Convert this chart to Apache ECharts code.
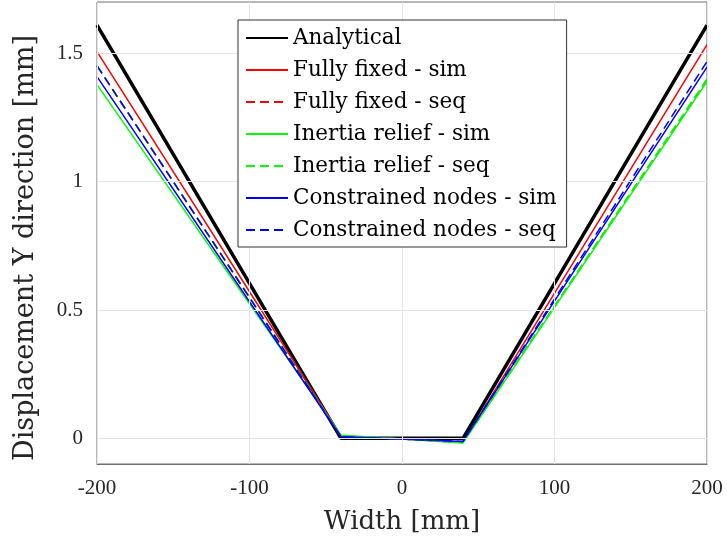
<!DOCTYPE html>
<html>
<head>
<meta charset="utf-8">
<script src="https://cdn.jsdelivr.net/npm/echarts@6/dist/echarts.min.js"></script>
<style>html,body{margin:0;padding:0;background:#fff;}#c{width:727px;height:548px;}</style>
</head>
<body>
<div id="c"></div>
<script>
const xValues = [-200, -40, 0, 40, 200];
const analytical = [1.61, 0.0, 0.0, 0.0, 1.61];
const fixedSim = [1.507, 0.010, -0.003, -0.016, 1.534];
const fixedSeq = [1.450, 0.008, -0.003, -0.014, 1.397];
const inertiaSim = [1.378, 0.012, -0.003, -0.018, 1.390];
const inertiaSeq = [1.452, 0.010, -0.003, -0.015, 1.400];
const constrSim = [1.409, 0.006, -0.003, -0.012, 1.446];
const constrSeq = [1.452, 0.006, -0.003, -0.012, 1.468];
const seriesNames = ['Analytical', 'Fully fixed - sim', 'Fully fixed - seq', 'Inertia relief - sim', 'Inertia relief - seq', 'Constrained nodes - sim', 'Constrained nodes - seq'];
const xTicks = [-200, -100, 0, 100, 200];
const yTicks = [0, 0.5, 1, 1.5];

const font = 'DejaVu Serif';
const tickFont = 'Liberation Serif';
const pair = arr => xValues.map((x, i) => [x, arr[i]]);
const specs = [
  [analytical, '#000000', 'solid', 3.5],
  [fixedSim, '#ff0000', 'solid', 1.5],
  [fixedSeq, '#ff0000', [9, 5], 1.5],
  [inertiaSim, '#00ff00', 'solid', 1.5],
  [inertiaSeq, '#00ff00', [9, 5], 1.5],
  [constrSim, '#0000ff', 'solid', 1.5],
  [constrSeq, '#0000ff', [9, 5], 1.5]
];
const series = specs.map((s, i) => ({
  name: seriesNames[i], type: 'line', data: pair(s[0]), symbol: 'none', showSymbol: false,
  lineStyle: {color: s[1], type: s[2], width: s[3]}, itemStyle: {color: s[1]}, animation: false,
  z: 2, zlevel: 0
}));
series[0].markLine = {
  silent: true, symbol: 'none', animation: false, label: {show: false},
  lineStyle: {color: '#e5e5e5', type: 'solid', width: 1},
  data: yTicks.map(v => ({yAxis: v})).concat(xTicks.map(v => ({xAxis: v})))
};

const chart = echarts.init(document.getElementById('c'));
chart.setOption({
  animation: false,
  backgroundColor: '#fff',
  grid: {left: 97, right: 20, top: 2, bottom: 84, outerBoundsMode: 'none', containLabel: false,
         show: true, borderColor: '#6e6e6e', borderWidth: 1, backgroundColor: 'transparent'},
  legend: {
    orient: 'vertical', left: 238, top: 20, data: seriesNames, z: 20,
    backgroundColor: '#fff', borderColor: '#333', borderWidth: 1,
    padding: [7, 10, 6, 7], itemGap: 10, itemWidth: 42, itemHeight: 14,
    itemStyle: {opacity: 0},
    textStyle: {fontFamily: font, fontSize: 21.5, color: '#000', lineHeight: 20}
  },
  xAxis: {
    type: 'value', min: -200, max: 200, interval: 100,
    name: 'Width [mm]', nameLocation: 'middle', nameGap: 45,
    nameTextStyle: {fontFamily: font, fontSize: 26, color: '#262626'},
    axisLine: {show: true, onZero: false, lineStyle: {color: '#6e6e6e'}},
    axisTick: {show: true, inside: true, length: 6, lineStyle: {color: '#6e6e6e'}},
    axisLabel: {fontFamily: tickFont, fontSize: 21, color: '#262626', margin: 14},
    splitLine: {show: false}
  },
  yAxis: {
    type: 'value', min: -0.1, max: 1.7,
    name: 'Displacement Y direction [mm]', nameLocation: 'middle', nameGap: 58,
    nameTextStyle: {fontFamily: font, fontSize: 27, color: '#262626', padding: [0, 30, 0, 0]},
    axisLine: {show: true, onZero: false, lineStyle: {color: '#6e6e6e'}},
    axisTick: {show: true, inside: true, length: 6, customValues: yTicks, lineStyle: {color: '#6e6e6e'}},
    axisLabel: {fontFamily: tickFont, fontSize: 21, color: '#262626', margin: 14, customValues: yTicks},
    splitLine: {show: false}
  },
  series: series
});
</script>
</body>
</html>
